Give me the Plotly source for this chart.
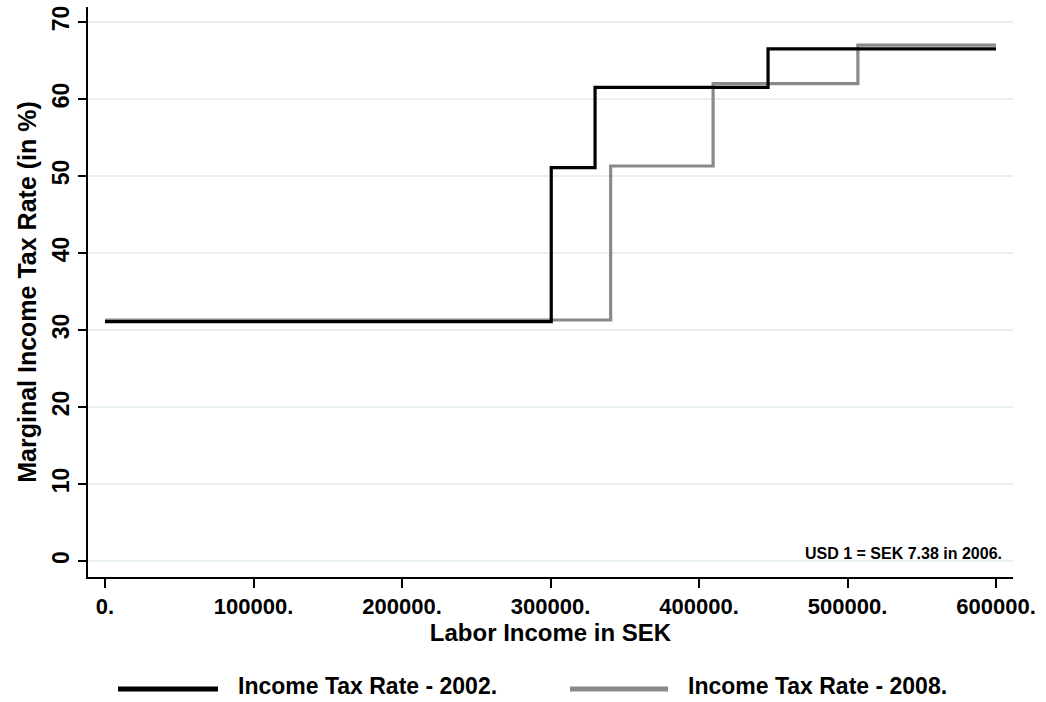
import plotly.graph_objects as go

# Step thresholds (SEK) and marginal rates (%)
income_2002 = [0, 300500, 330000, 446500, 600000]
rate_2002 = [31.1, 51.1, 61.5, 66.5, 66.5]
income_2008 = [0, 340500, 409500, 507000, 600000]
rate_2008 = [31.3, 51.3, 62.0, 67.0, 67.0]

x_ticks = [0, 100000, 200000, 300000, 400000, 500000, 600000]
x_tick_labels = ["0.", "100000.", "200000.", "300000.", "400000.", "500000.", "600000."]
y_ticks = [0, 10, 20, 30, 40, 50, 60, 70]

FONT = "Liberation Sans, Arial, sans-serif"
W, H = 1046, 702
L, R, T, B = 88, 33, 7, 125
pw, ph = W - L - R, H - T - B

def px(xp):
    return (xp - L) / pw

def py(yp):
    return (H - B - yp) / ph

def bold(s):
    return "<b>" + s + "</b>"

fig = go.Figure()
fig.add_trace(go.Scatter(x=income_2008, y=rate_2008, mode="lines", line_shape="hv",
                         line=dict(color="#8a8a8a", width=3.2), showlegend=False))
fig.add_trace(go.Scatter(x=income_2002, y=rate_2002, mode="lines", line_shape="hv",
                         line=dict(color="#000000", width=3.2), showlegend=False))

# custom legend
legend_items = [("Income Tax Rate - 2002.", "#000000", 118, 218, 236),
                ("Income Tax Rate - 2008.", "#8a8a8a", 570, 668, 686)]
shapes = []
annotations = []
for label, color, x0, x1, xt in legend_items:
    shapes.append(dict(type="line", xref="paper", yref="paper", x0=px(x0), x1=px(x1),
                       y0=py(689), y1=py(689), line=dict(color=color, width=5)))
    annotations.append(dict(text=bold(label), xref="paper", yref="paper", x=px(xt), y=py(686),
                            xanchor="left", yanchor="middle", showarrow=False,
                            font=dict(family=FONT, size=23, color="#000")))

annotations.append(dict(text=bold("USD 1 = SEK 7.38 in 2006."), xref="paper", yref="paper",
                        x=px(1004), y=py(553), xanchor="right", yanchor="middle",
                        showarrow=False, font=dict(family=FONT, size=16, color="#000")))

fig.update_layout(
    width=W, height=H,
    margin=dict(l=L, r=R, t=T, b=B),
    paper_bgcolor="white", plot_bgcolor="white",
    font=dict(family=FONT, color="#000"),
    shapes=shapes, annotations=annotations,
    xaxis=dict(range=[-11450, 611450], tickvals=x_ticks, ticktext=[bold(t) for t in x_tick_labels],
               showgrid=False, zeroline=False, showline=True, linecolor="#000", linewidth=1.5,
               ticks="outside", ticklen=9, tickwidth=1.5, tickcolor="#000",
               tickfont=dict(size=22), title=dict(text=bold("Labor Income in SEK"), font=dict(size=24), standoff=4)),
    yaxis=dict(range=[-2.08, 71.95], tickvals=y_ticks, ticktext=[bold(str(v)) for v in y_ticks], tickangle=-90,
               showgrid=True, gridcolor="#e8eff1", gridwidth=1.5, zeroline=False,
               showline=True, linecolor="#000", linewidth=1.5,
               ticks="outside", ticklen=8, tickwidth=1.5, tickcolor="#000",
               tickfont=dict(size=23), title=dict(text=bold("Marginal Income Tax Rate (in %)"), font=dict(size=25), standoff=4)),
)

fig.write_html("out.html", config={"displayModeBar": False},
               post_script="document.body.style.margin='0';")
